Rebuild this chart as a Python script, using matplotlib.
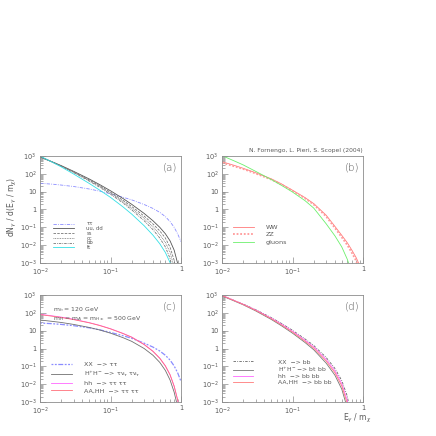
import numpy as np
import matplotlib
matplotlib.use("Agg")
import matplotlib.pyplot as plt

# common x grid (E_gamma / m_chi) and curves stored as log10(dN/dx)
x_grid = [0.01, 0.015, 0.02, 0.03, 0.05, 0.07, 0.1, 0.15, 0.2, 0.3, 0.4, 0.5, 0.6, 0.7, 0.8, 0.9, 1.0]

# panel (a): quark / lepton channels
a_tautau = [1.47, 1.42, 1.37, 1.29, 1.15, 1.03, 0.88, 0.69, 0.54, 0.28, 0.06, -0.16, -0.40, -0.68, -1.00, -1.38, -1.80]
a_uu = [2.95, 2.67, 2.46, 2.14, 1.71, 1.40, 1.05, 0.62, 0.29, -0.22, -0.63, -1.00, -1.36, -1.76, -2.28, -3.05, -4.5]
a_ss = [2.95, 2.66, 2.44, 2.11, 1.66, 1.34, 0.97, 0.52, 0.17, -0.37, -0.81, -1.20, -1.60, -2.12, -2.85, -4.0, -6]
a_cc = [2.95, 2.65, 2.43, 2.09, 1.63, 1.30, 0.92, 0.45, 0.08, -0.50, -0.97, -1.40, -1.85, -2.40, -3.25, -4.5, -6]
a_bb = [2.97, 2.66, 2.43, 2.07, 1.59, 1.25, 0.86, 0.37, -0.02, -0.63, -1.13, -1.60, -2.10, -2.75, -3.70, -5.0, -6]
a_tt = [3.00, 2.65, 2.39, 1.99, 1.46, 1.09, 0.68, 0.15, -0.26, -0.91, -1.44, -1.92, -2.41, -2.98, -3.68, -4.5, -6]
a_labels = ["ττ", "uu, dd", "ss", "cc", "bb", "tt"]

# panel (b): gauge bosons and gluons
b_ww = [2.68, 2.47, 2.31, 2.06, 1.72, 1.43, 1.08, 0.67, 0.33, -0.32, -0.95, -1.45, -1.87, -2.30, -2.70, -3.15, -4.0]
b_zz = [2.62, 2.42, 2.27, 2.02, 1.68, 1.40, 1.05, 0.63, 0.28, -0.39, -1.04, -1.56, -2.00, -2.45, -2.88, -3.45, -4.5]
b_gluons = [3.02, 2.72, 2.50, 2.14, 1.68, 1.35, 0.98, 0.50, 0.08, -0.80, -1.48, -2.10, -2.80, -3.60, -4.5, -5.5, -6]
b_labels = ["WW", "ZZ", "gluons"]

# panel (c): tau final states through Higgs bosons
c_xx = [1.43, 1.39, 1.35, 1.28, 1.16, 1.05, 0.90, 0.72, 0.57, 0.30, 0.08, -0.14, -0.38, -0.65, -0.98, -1.38, -1.85]
c_hphm = [1.60, 1.52, 1.46, 1.35, 1.18, 1.04, 0.86, 0.61, 0.40, 0.00, -0.38, -0.78, -1.23, -1.77, -2.45, -3.30, -5.0]
c_hh = [1.92, 1.83, 1.76, 1.64, 1.45, 1.30, 1.11, 0.85, 0.64, 0.23, -0.15, -0.54, -0.97, -1.47, -2.11, -2.91, -4.5]
c_aa = [1.90, 1.81, 1.74, 1.62, 1.44, 1.29, 1.10, 0.84, 0.63, 0.22, -0.16, -0.55, -0.98, -1.48, -2.12, -2.92, -4.5]
c_labels = ["XX  −> ττ", "H$^{+}$H$^{-}$ −> τν$_τ$ τν$_τ$", "hh  −> ττ ττ", "AA,HH  −> ττ ττ"]

# panel (d): b final states through Higgs bosons
d_xx = [2.97, 2.69, 2.49, 2.18, 1.73, 1.40, 1.02, 0.54, 0.17, -0.50, -1.12, -1.80, -2.68, -4.2, -6, -6, -6]
d_hphm = [2.95, 2.66, 2.45, 2.11, 1.63, 1.27, 0.86, 0.34, -0.07, -0.82, -1.50, -2.28, -3.35, -5.0, -6, -6, -6]
d_hh = [2.98, 2.69, 2.48, 2.16, 1.70, 1.36, 0.97, 0.47, 0.09, -0.61, -1.25, -1.97, -2.92, -4.5, -6, -6, -6]
d_aa = [2.97, 2.68, 2.47, 2.14, 1.67, 1.32, 0.92, 0.41, 0.02, -0.70, -1.36, -2.10, -3.10, -4.8, -6, -6, -6]
d_labels = ["XX  −> bb", "H$^{+}$H$^{-}$ −> bt bb", "hh  −> bb bb", "AA,HH  −> bb bb"]

y_ticks = [1e-3, 1e-2, 1e-1, 1, 10, 1e2, 1e3]
y_ticklabels = ["$10^{-3}$", "$10^{-2}$", "$10^{-1}$", "1", "10", "$10^{2}$", "$10^{3}$"]
x_ticks = [1e-2, 1e-1, 1]
x_ticklabels = ["$10^{-2}$", "$10^{-1}$", "1"]

TXT = "#5a5a5a"
FRAME = "#8c8c8c"
LW = 0.6

plt.rcParams["font.family"] = ["DejaVu Sans"]
plt.rcParams["mathtext.fontset"] = "dejavusans"

fig = plt.figure(figsize=(4.36, 4.36), dpi=100)
W, H = 436.0, 436.0


def make_ax(left, top, width=141, height=107):
    ax = fig.add_axes([left / W, 1 - (top + height) / H, width / W, height / H])
    ax.set_xscale("log")
    ax.set_yscale("log")
    ax.set_xlim(1e-2, 1)
    ax.set_ylim(1e-3, 1e3)
    ax.set_yticks(y_ticks)
    ax.set_yticklabels(y_ticklabels)
    ax.set_xticks(x_ticks)
    ax.set_xticklabels(x_ticklabels)
    ax.yaxis.set_minor_locator(matplotlib.ticker.LogLocator(base=10, subs=np.arange(2, 10), numticks=20))
    ax.xaxis.set_minor_locator(matplotlib.ticker.LogLocator(base=10, subs=np.arange(2, 10), numticks=20))
    ax.yaxis.set_minor_formatter(matplotlib.ticker.NullFormatter())
    ax.xaxis.set_minor_formatter(matplotlib.ticker.NullFormatter())
    ax.tick_params(which="both", direction="in", colors=FRAME, labelcolor=TXT, labelsize=4.8,
                   width=0.5, top=False, right=False)
    ax.tick_params(which="major", length=4, pad=2.5)
    ax.tick_params(which="minor", length=2)
    for s in ax.spines.values():
        s.set_color(FRAME)
        s.set_linewidth(0.6)
    return ax


def curve(ax, vals, lw=LW, **kw):
    return ax.plot(x_grid, np.power(10.0, vals), lw=lw, **kw)[0]


def panel_tag(ax, tag):
    ax.text(0.92, 0.895, tag, transform=ax.transAxes, ha="center", va="center",
            fontsize=7.5, color=TXT, fontweight="light")


ax_a = make_ax(40, 156)
ax_b = make_ax(222, 156)
ax_c = make_ax(40, 295)
ax_d = make_ax(222, 295)

# (a)
h = []
h.append(curve(ax_a, a_tautau, color="#8a8cff", ls=(0, (4, 1.5, 1, 1.5))))
h.append(curve(ax_a, a_uu, color="#555555"))
h.append(curve(ax_a, a_ss, color="#777777", ls=(0, (3, 1.5))))
h.append(curve(ax_a, a_cc, color="#777777", ls=(0, (1, 1))))
h.append(curve(ax_a, a_bb, color="#777777", ls=(0, (3, 1.2, 1, 1.2))))
h.append(curve(ax_a, a_tt, color="#33e0e6"))
ax_a.legend(h, a_labels, loc="lower left", bbox_to_anchor=(0.09, 0.12), frameon=False,
            fontsize=3.8, labelcolor=TXT, handlelength=4.0, handletextpad=2.4,
            labelspacing=-0.05, borderpad=0, borderaxespad=0)
panel_tag(ax_a, "(a)")

# (b)
h = []
h.append(curve(ax_b, b_ww, color="#ff7a7a"))
h.append(curve(ax_b, b_zz, color="#ff9a9a", ls=(0, (1, 1)), lw=1.3))
h.append(curve(ax_b, b_gluons, color="#6cf06c"))
ax_b.legend(h, b_labels, loc="lower left", bbox_to_anchor=(0.08, 0.17), frameon=False,
            fontsize=4.6, labelcolor=TXT, handlelength=3.2, handletextpad=1.9,
            labelspacing=0.3, borderpad=0, borderaxespad=0)
panel_tag(ax_b, "(b)")

# (c)
h = []
h.append(curve(ax_c, c_xx, color="#8a8cff", ls=(0, (1.5, 1.2, 1.5, 1.2, 4, 1.2)), lw=0.9))
h.append(curve(ax_c, c_hphm, color="#707070"))
h.append(curve(ax_c, c_hh, color="#ff66ff"))
h.append(curve(ax_c, c_aa, color="#ff6f7a"))
ax_c.legend(h, c_labels, loc="lower left", bbox_to_anchor=(0.08, 0.08), frameon=False,
            fontsize=4.6, labelcolor=TXT, handlelength=3.2, handletextpad=1.9,
            labelspacing=0.3, borderpad=0, borderaxespad=0)
ax_c.text(0.095, 0.86, "m$_h$ = 120 GeV", transform=ax_c.transAxes, fontsize=4.4, color=TXT, va="center")
ax_c.text(0.095, 0.78, "m$_H$ = m$_A$ = m$_{H\\pm}$ = 500 GeV", transform=ax_c.transAxes,
          fontsize=4.4, color=TXT, va="center")
panel_tag(ax_c, "(c)")

# (d)
h = []
h.append(curve(ax_d, d_xx, color="#666666", ls=(0, (3, 1.5, 1, 1.5))))
h.append(curve(ax_d, d_hphm, color="#777777"))
h.append(curve(ax_d, d_hh, color="#ff66ff"))
h.append(curve(ax_d, d_aa, color="#ff7a7a"))
ax_d.legend(h, d_labels, loc="lower left", bbox_to_anchor=(0.08, 0.16), frameon=False,
            fontsize=4.4, labelcolor=TXT, handlelength=3.3, handletextpad=4.0,
            labelspacing=0.05, borderpad=0, borderaxespad=0)
panel_tag(ax_d, "(d)")

fig.text(363 / W, 1 - 150 / H, "N. Fornengo, L. Pieri, S. Scopel (2004)", ha="right", va="center",
         fontsize=4.3, color=TXT)
fig.text(357 / W, 1 - 418 / H, "E$_\\gamma$ / m$_\\chi$", ha="center", va="center",
         fontsize=5.5, color=TXT)
fig.text(12 / W, 1 - 207 / H, "dN$_\\gamma$ / d(E$_\\gamma$ / m$_\\chi$)", ha="center", va="center",
         rotation=90, fontsize=5.5, color=TXT)

fig.savefig("out.png", dpi=100)
